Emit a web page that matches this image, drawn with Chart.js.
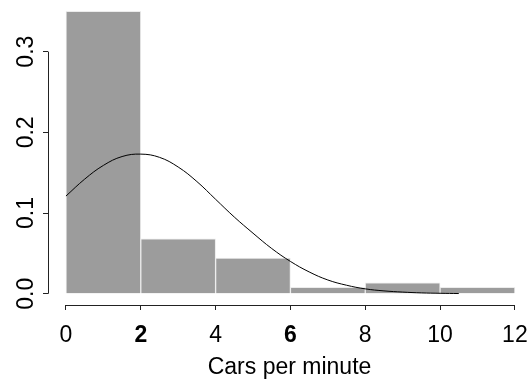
<!DOCTYPE html>
<html>
<head>
<meta charset="utf-8">
<script src="https://cdn.jsdelivr.net/npm/chart.js@4"></script>
<style>
  html, body { margin: 0; padding: 0; background: #fff; }
</style>
</head>
<body>
<canvas id="chartHist" width="531" height="381"></canvas>
<script>
// histogram bins (width 2), centres and densities
const binCenters = [1, 3, 5, 7, 9, 11];
const density = [0.35, 0.068, 0.044, 0.008, 0.0135, 0.008];

// fitted curve
const curveX = [0, 0.5, 1, 1.5, 2, 2.5, 3, 3.5, 4, 4.5, 5, 5.5, 6, 6.5, 7, 7.5, 8, 8.5, 9, 9.5, 10, 10.5];
const curveY = [0.121, 0.142, 0.159, 0.170, 0.173, 0.169, 0.157, 0.139, 0.117, 0.095, 0.075, 0.056, 0.040, 0.027, 0.017, 0.0105, 0.006, 0.0035, 0.002, 0.001, 0.0005, 0.0002];

const xTicks = [0, 2, 4, 6, 8, 10, 12];
const yTicks = [0, 0.1, 0.2, 0.3];

const FONT = 'Liberation Sans, Arial, sans-serif';
const boldTicks = [2, 6];

// axis lines drawn only over the tick range, like R's axis()
const rAxes = {
  id: 'rAxes',
  afterDraw(chart) {
    const { ctx, chartArea, scales: { x, y } } = chart;
    ctx.save();
    ctx.strokeStyle = '#222';
    ctx.lineWidth = 1;
    ctx.beginPath();
    const yb = Math.round(chartArea.bottom) + 0.5;
    ctx.moveTo(x.getPixelForValue(xTicks[0]), yb);
    ctx.lineTo(x.getPixelForValue(xTicks[xTicks.length - 1]), yb);
    const xl = Math.round(chartArea.left) + 0.5;
    ctx.moveTo(xl, y.getPixelForValue(yTicks[0]));
    ctx.lineTo(xl, y.getPixelForValue(yTicks[yTicks.length - 1]));
    ctx.stroke();
    ctx.restore();
  }
};

new Chart(document.getElementById('chartHist'), {
  type: 'bar',
  data: {
    datasets: [
      {
        type: 'line',
        data: curveX.map((v, i) => ({ x: v, y: curveY[i] })),
        borderColor: '#000',
        borderWidth: 1,
        pointRadius: 0,
        tension: 0.4,
        fill: false,
        order: 0
      },
      {
        data: binCenters.map((v, i) => ({ x: v, y: density[i] })),
        backgroundColor: '#9c9c9c',
        borderColor: '#ececec',
        borderWidth: 1,
        barPercentage: 1,
        categoryPercentage: 1,
        order: 1
      }
    ]
  },
  options: {
    responsive: false,
    animation: false,
    layout: { padding: 0 },
    plugins: { legend: { display: false }, tooltip: { enabled: false } },
    scales: {
      x: {
        type: 'linear',
        min: -0.48,
        max: 12.43,
        offset: false,
        afterFit: s => { s.height = 76; s.paddingLeft = 0; s.paddingRight = 0; },
        afterBuildTicks: s => { s.ticks = xTicks.map(v => ({ value: v })); },
        border: { display: false },
        grid: { offset: false, drawOnChartArea: false, drawTicks: true, tickLength: 5, color: '#222' },
        ticks: {
          padding: 12,
          color: '#000',
          maxRotation: 0,
          font: ctx => ({ family: FONT, size: 23, weight: boldTicks.includes(ctx.tick && ctx.tick.value) ? 'bold' : 'normal' }),
          callback: v => String(v)
        },
        title: {
          display: true,
          text: 'Cars per minute',
          color: '#000',
          font: { family: FONT, size: 23 },
          padding: { top: 0, bottom: 0 }
        }
      },
      y: {
        min: -0.014,
        max: 0.364,
        afterFit: s => { s.width = 48; s.paddingTop = 0; s.paddingBottom = 0; },
        afterBuildTicks: s => { s.ticks = yTicks.map(v => ({ value: v })); },
        border: { display: false },
        grid: { drawOnChartArea: false, drawTicks: true, tickLength: 5, color: '#222' },
        ticks: {
          padding: 0,
          color: '#000',
          minRotation: 90,
          maxRotation: 90,
          crossAlign: 'center',
          font: { family: FONT, size: 23 },
          callback: v => v.toFixed(1)
        }
      }
    }
  },
  plugins: [rAxes]
});
</script>
</body>
</html>
